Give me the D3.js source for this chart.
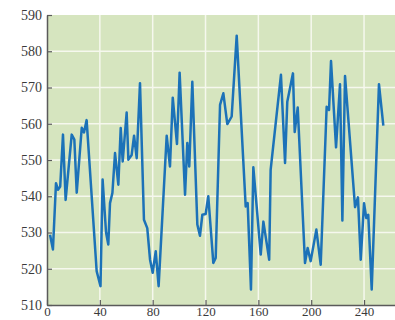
<!DOCTYPE html>
<html>
<head>
<meta charset="utf-8">
<script src="https://cdn.jsdelivr.net/npm/d3@7"></script>
<style>
  body { margin: 0; background: #fff; }
  svg { display: block; }
</style>
</head>
<body>
<div id="chart"></div>
<script>
// values
var xVals = [2.3, 4.5, 6.8, 8.3, 10, 12.1, 14.1, 18.7, 20.7, 22.5, 26.3, 28, 30, 37.6, 40.5,
  42.1, 44.7, 46.4, 47.7, 49.5, 51.5, 54, 55.8, 57.3, 60.3, 61.6, 64.1, 65.9, 67.9, 70.4,
  73.4, 75.9, 78, 80, 82.3, 84.5, 90.6, 93.1, 95.2, 98.4, 100.4, 104.5, 106.2, 107.7, 110,
  113.8, 115.8, 117.6, 120.1, 122.1, 125.9, 127.7, 131, 133.5, 136.5, 139.8, 143.6, 150.4,
  151.9, 154.4, 156.2, 161.8, 163.8, 168.2, 169.3, 177.1, 180.2, 181.9, 186.2, 187.5, 189.8,
  195.3, 197.3, 199.6, 203.9, 207.2, 211.7, 213.5, 215, 218.8, 221.8, 223.6, 225.6, 233.2,
  235.4, 237.5, 240, 241.7, 243.2, 245.8, 251.3, 254.6];
var yVals = [529.4, 525.3, 543.6, 541.8, 542.7, 557, 539, 557, 555.6, 541, 558.9, 557.6, 561, 519.3, 515.2,
  544.6, 530, 526.7, 538.1, 540.9, 551.9, 543.2, 558.8, 549.6, 563.1, 550.1, 551.4, 556.7, 550.5, 571.2,
  533.5, 531.2, 522.5, 518.9, 524.8, 515.2, 556.7, 548.2, 567.2, 554.4, 574.1, 540.4, 554.7, 548.2, 571.6,
  532.2, 529.1, 534.9, 535.1, 540, 521.6, 523, 565.2, 568.4, 559.9, 562, 584.3, 537.2,
  538.1, 514.3, 548, 523.9, 533, 522.5, 547.3, 573.5, 549.2, 566.1, 573.9, 557.7, 564.5,
  521.6, 525.7, 522.1, 530.8, 521.1, 564.7, 563.8, 577.3, 553.5, 570.9, 533.3, 573.2, 537,
  539.7, 522.5, 538.1, 534, 534.9, 514.3, 570.9, 559.5];
var xTicks = [0, 40, 80, 120, 160, 200, 240];
var yTicks = [510, 520, 530, 540, 550, 560, 570, 580, 590];

var W = 395, H = 320;
var margin = { top: 15, right: 0, bottom: 15, left: 47 };
var width = W - margin.left - margin.right,
    height = H - margin.top - margin.bottom;

var svg = d3.select('#chart').append('svg')
  .attr('width', W)
  .attr('height', H)
  .append('g')
  .attr('transform', 'translate(' + margin.left + ',' + margin.top + ')');

var x = d3.scaleLinear().domain([0, width / 1.321]).range([0, width]);
var y = d3.scaleLinear().domain([510, 590]).range([height, 0]);

svg.append('rect')
  .attr('width', width)
  .attr('height', height)
  .attr('fill', '#d6e5bf');

// grid
svg.selectAll('.gx')
  .data(xTicks.slice(1))
  .enter().append('line')
  .attr('x1', d => x(d)).attr('x2', d => x(d))
  .attr('y1', 0).attr('y2', height)
  .attr('stroke', '#f6f8ee').attr('stroke-width', 1.5);

svg.selectAll('.gy')
  .data(yTicks.slice(1, -1))
  .enter().append('line')
  .attr('y1', d => y(d)).attr('y2', d => y(d))
  .attr('x1', 0).attr('x2', width)
  .attr('stroke', '#f6f8ee').attr('stroke-width', 1.5);

// line
var pts = xVals.map((d, i) => [d, yVals[i]]);
svg.append('path')
  .datum(pts)
  .attr('fill', 'none')
  .attr('stroke', '#1c72b8')
  .attr('stroke-width', 2.5)
  .attr('stroke-linejoin', 'round')
  .attr('d', d3.line().x(d => x(d[0])).y(d => y(d[1])));

// axes
var xAxis = svg.append('g')
  .attr('transform', 'translate(0,' + height + ')')
  .call(d3.axisBottom(x).tickValues(xTicks).tickSizeInner(-5).tickSizeOuter(0).tickPadding(2));
var yAxis = svg.append('g')
  .call(d3.axisLeft(y).tickValues(yTicks).tickSizeInner(-5).tickSizeOuter(0).tickPadding(5));

[xAxis, yAxis].forEach(function (a) {
  a.select('.domain').attr('stroke', '#5a5a5a').attr('stroke-width', 1.5);
  a.selectAll('.tick line').attr('stroke', '#5a5a5a').attr('stroke-width', 1.2);
  a.selectAll('.tick text')
    .attr('fill', '#3a3a3a')
    .style('font-family', '"Liberation Serif", "DejaVu Serif", serif')
    .style('font-size', '14px');
});
xAxis.selectAll('.tick text').style('font-size', '13px').attr('dy', '0.71em');
</script>
</body>
</html>
